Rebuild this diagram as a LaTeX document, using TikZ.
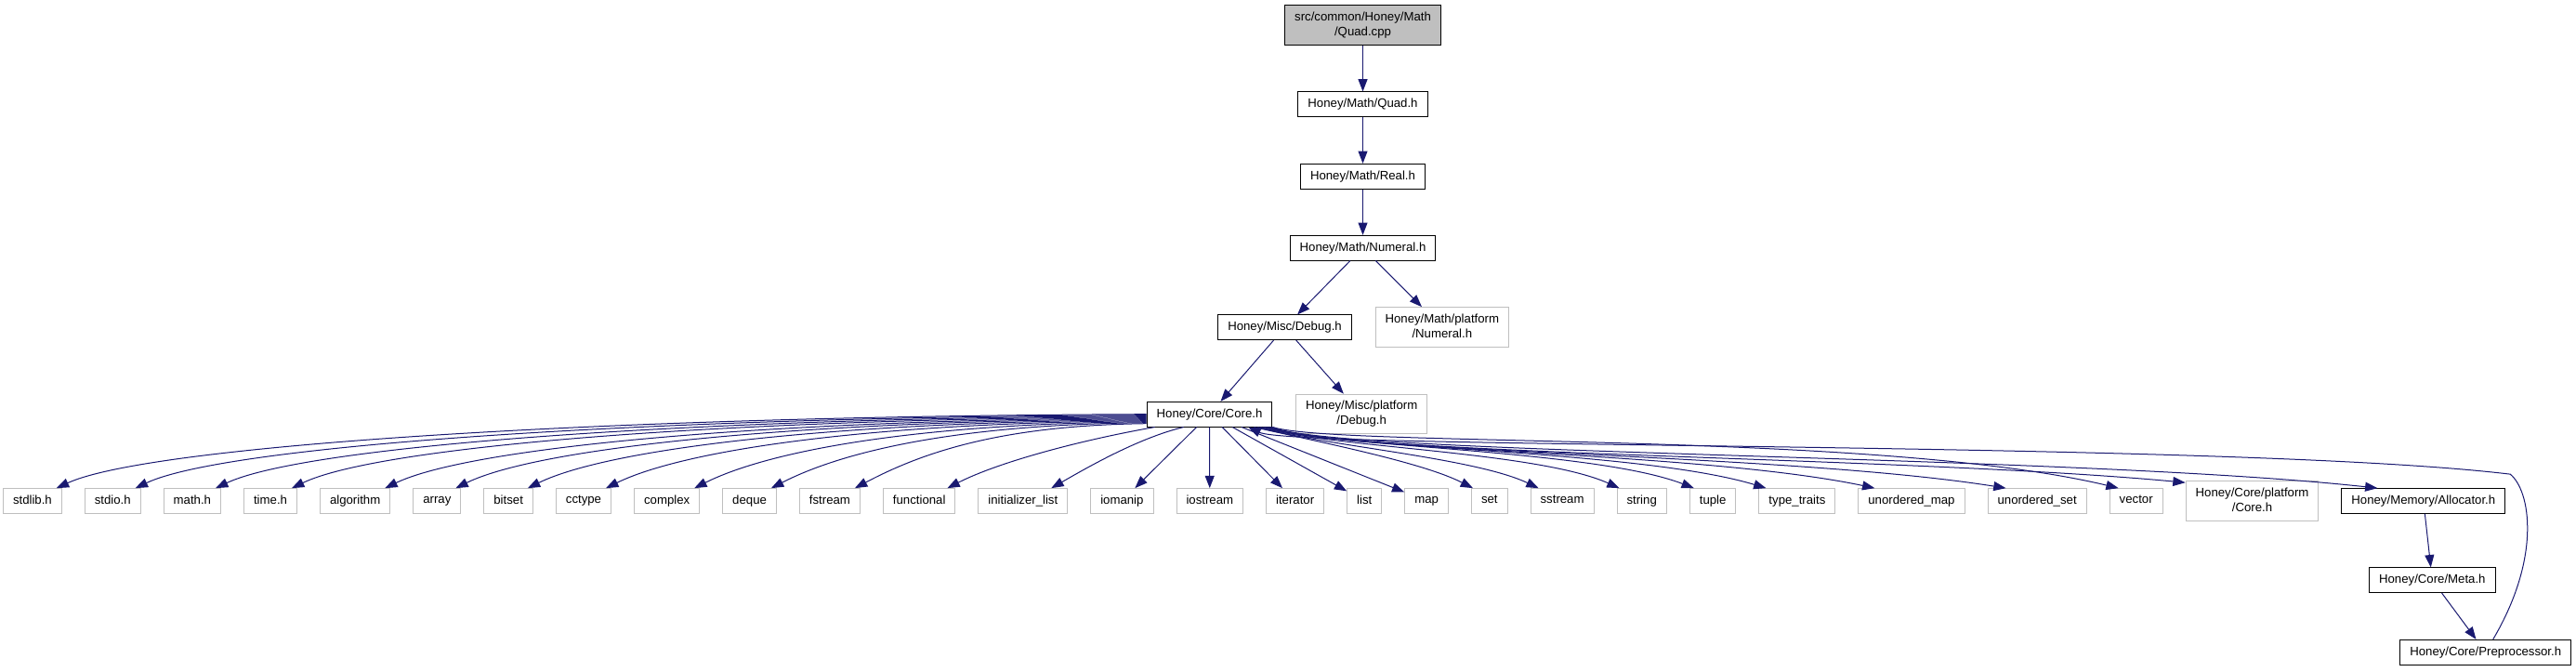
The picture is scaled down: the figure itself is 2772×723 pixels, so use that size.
\documentclass[tikz,border=0pt]{standalone}
\usepackage{fontspec}
\setmainfont{Liberation Sans}
\usetikzlibrary{arrows.meta, positioning, calc}
\definecolor{edgeblue}{HTML}{191970}
\definecolor{extgrey}{HTML}{BFBFBF}
\newcommand{\hdrfont}{\fontsize{9.9pt}{12pt}\selectfont}

\begin{document}
\begin{tikzpicture}[x=0.75pt, y=-0.75pt, node distance=18pt, >={Triangle[length=10pt, width=7.5pt]},
  hdr/.style={draw=black, fill=white, line width=0.75pt, inner xsep=7.875pt, inner ysep=5.3pt, minimum height=20pt, text depth=2.2pt, align=center, font=\hdrfont},
  ext/.style={hdr, draw=extgrey},
  root/.style={hdr, fill=extgrey},
  dep/.style={->, draw=edgeblue, line width=0.75pt}]
\useasboundingbox (0,0) rectangle (2772,723);

\node[root] (quadcpp) at (1466.5,27) {src/common/Honey/Math\\/Quad.cpp};
\node[hdr] (quadh) at (1466.5,112.3) {Honey/Math/Quad.h};
\node[hdr] (realh) at (1466.5,189.7) {Honey/Math/Real.h};
\node[hdr] (numeralh) at (1466.5,266.7) {Honey/Math/Numeral.h};
\node[hdr] (debugh) at (1382.5,352.3) {Honey/Misc/Debug.h};
\node[ext] (platnumeral) at (1551.8,352) {Honey/Math/platform\\/Numeral.h};
\node[hdr] (coreh) at (1301.5,445.7) {Honey/Core/Core.h};
\node[ext] (platdebug) at (1465.2,445.5) {Honey/Misc/platform\\/Debug.h};

\node[ext, anchor=west] (stdlib) at (3,539) {stdlib.h};
\node[ext, right=of stdlib] (stdio) {stdio.h};
\node[ext, right=of stdio] (mathh) {math.h};
\node[ext, right=of mathh] (timeh) {time.h};
\node[ext, right=of timeh] (algorithm) {algorithm};
\node[ext, right=of algorithm] (array) {array};
\node[ext, right=of array] (bitset) {bitset};
\node[ext, right=of bitset] (cctype) {cctype};
\node[ext, right=of cctype] (complex) {complex};
\node[ext, right=of complex] (deque) {deque};
\node[ext, right=of deque] (fstream) {fstream};
\node[ext, right=of fstream] (functional) {functional};
\node[ext, right=of functional] (initlist) {initializer\_list};
\node[ext, right=of initlist] (iomanip) {iomanip};
\node[ext, right=of iomanip] (iostream) {iostream};
\node[ext, right=of iostream] (iterator) {iterator};
\node[ext, right=of iterator] (list) {list};
\node[ext, right=of list] (map) {map};
\node[ext, right=of map] (set) {set};
\node[ext, right=of set] (sstream) {sstream};
\node[ext, right=of sstream] (string) {string};
\node[ext, right=of string] (tuple) {tuple};
\node[ext, right=of tuple] (typetraits) {type\_traits};
\node[ext, right=of typetraits] (umap) {unordered\_map};
\node[ext, right=of umap] (uset) {unordered\_set};
\node[ext, right=of uset] (vector) {vector};
\node[ext, right=of vector] (platcore) {Honey/Core/platform\\/Core.h};
\node[hdr, right=of platcore] (alloc) {Honey/Memory/Allocator.h};
\node[hdr] (meta) at (2617.3,624.2) {Honey/Core/Meta.h};
\node[hdr] (prep) at (2674.7,701.7) {Honey/Core/Preprocessor.h};
\coordinate (loop) at ($(alloc.north east)+(5,-15)$);

\draw[dep] (quadcpp) -- (quadh);
\draw[dep] (quadh) -- (realh);
\draw[dep] (realh) -- (numeralh);
\draw[dep] (numeralh) -- (debugh);
\draw[dep] (numeralh) -- (platnumeral);
\draw[dep] (debugh) -- (coreh);
\draw[dep] (debugh) -- (platdebug);

\draw[dep] (coreh.west) .. controls +(-586,2) and +(100,-46) .. ($(stdlib.north east)+(-6,0)$);
\draw[dep] ($(coreh.west)+(0,1)$) .. controls +(-543,2) and +(98,-46) .. ($(stdio.north east)+(-6,0)$);
\draw[dep] ($(coreh.west)+(0,2)$) .. controls +(-500,2) and +(96,-45) .. ($(mathh.north east)+(-6,0)$);
\draw[dep] ($(coreh.west)+(0,3)$) .. controls +(-459,2) and +(94,-45) .. ($(timeh.north east)+(-6,0)$);
\draw[dep] ($(coreh.west)+(0,4)$) .. controls +(-410,2) and +(92,-44) .. ($(algorithm.north east)+(-6,0)$);
\draw[dep] ($(coreh.west)+(0,5)$) .. controls +(-372,2) and +(90,-44) .. ($(array.north east)+(-6,0)$);
\draw[dep] ($(coreh.west)+(0,6)$) .. controls +(-333,2) and +(88,-43) .. ($(bitset.north east)+(-6,0)$);
\draw[dep] ($(coreh.west)+(0,7)$) .. controls +(-292,2) and +(86,-42) .. ($(cctype.north east)+(-6,0)$);
\draw[dep] ($(coreh.west)+(0,8)$) .. controls +(-244,2) and +(82,-41) .. ($(complex.north east)+(-6,0)$);
\draw[dep] ($(coreh.west)+(0,9)$) .. controls +(-203,2) and +(78,-40) .. ($(deque.north east)+(-6,0)$);
\draw[dep] ($(coreh.west)+(0,10)$) .. controls +(-158,2) and +(72,-38) .. ($(fstream.north east)+(-6,0)$);
\draw[dep] ($(coreh.south west)+(9,0)$) .. controls +(-80,14) and +(55,-28) .. ($(functional.north east)+(-9,0)$);
\draw[dep] ($(coreh.south west)+(40,0)$) .. controls +(-50,12) and +(35,-20) .. ($(initlist.north east)+(-18,0)$);
\draw[dep] (coreh) -- (iomanip);
\draw[dep] (coreh) -- (iostream);
\draw[dep] (coreh) -- (iterator);
\draw[dep] (coreh) -- (list);
\draw[dep] (coreh) -- (map);
\draw[dep] ($(coreh.south east)+(-20,0)$) .. controls +(70,16) and +(-55,-28) .. ($(set.north west)+(2,0)$);
\draw[dep] ($(coreh.south east)+(-16,0)$) .. controls +(70,20) and +(-70,-33) .. ($(sstream.north west)+(9,0)$);
\draw[dep] ($(coreh.south east)+(-13,0)$) .. controls +(70,22) and +(-90,-40) .. ($(string.north west)+(3,0)$);
\draw[dep] ($(coreh.south east)+(-10,0)$) .. controls +(70,22) and +(-110,-42) .. ($(tuple.north west)+(5,0)$);
\draw[dep] ($(coreh.south east)+(-8,0)$) .. controls +(70,24) and +(-140,-42) .. ($(typetraits.north west)+(8,0)$);
\draw[dep] ($(coreh.south east)+(-6,0)$) .. controls +(70,26) and +(-190,-40) .. ($(umap.north west)+(18,0)$);
\draw[dep] ($(coreh.south east)+(-4,0)$) .. controls +(70,28) and +(-240,-38) .. ($(uset.north west)+(20,0)$);
\draw[dep] (coreh.south east) .. controls +(70,22) and +(-260,-62) .. ($(vector.north west)+(10,0)$);
\draw[dep] ($(coreh.south east)+(-2,0)$) .. controls +(70,30) and +(-300,-28) .. ($(platcore.north west)+(0,2)$);
\draw[dep] (coreh.south east) .. controls +(60,30) and +(-330,-36) .. ($(alloc.north west)+(39,0)$);

\draw[dep] (alloc) -- (meta);
\draw[dep] (meta) -- (prep);
\draw[dep] ($(prep.north)+(8,0)$) .. controls +(52,-88) and +(22,18) .. (loop) .. controls +(-300,-36) and +(50,24) .. ($(coreh.south east)+(-26,0)$);
\end{tikzpicture}
\end{document}
